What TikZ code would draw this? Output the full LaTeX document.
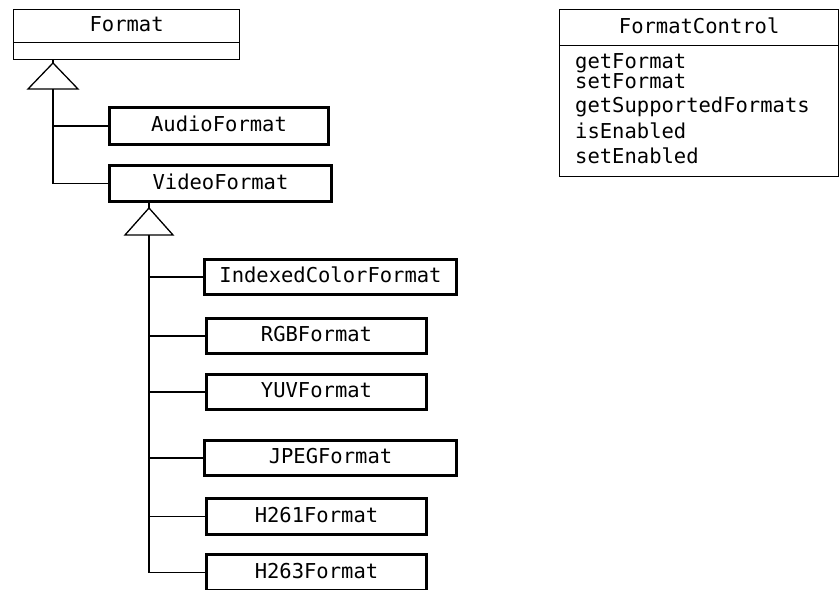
\documentclass[tikz,border=0pt]{standalone}
\usepackage{fontspec}
\setmonofont{DejaVu Sans Mono}
\usetikzlibrary{positioning}

\tikzset{
  umltext/.style={font=\fontsize{20.5}{24}\selectfont\ttfamily, text height=14pt, text depth=3pt},
  classbox/.style={draw, rectangle, anchor=north west, inner sep=0pt, line width=1.3pt, umltext},
  subclass/.style={classbox, line width=3pt},
  method/.style={anchor=base west, inner sep=0pt, font=\fontsize{20.5}{24}\selectfont\ttfamily},
  link/.style={line width=1.3pt}
}

\begin{document}
\begin{tikzpicture}[x=1pt, y=-1pt, line join=miter]
    \useasboundingbox (0,0) rectangle (840,589);

    % base class with its empty attribute part
    \node[classbox, minimum width=226, minimum height=33] (format) at (13,9) {Format};
    \node[classbox, minimum width=226, minimum height=11] (fmtattr) at (13,42) {};

    \node[subclass, minimum width=219, minimum height=37] (audio) at (108,106) {AudioFormat};
    \node[subclass, minimum width=222, minimum height=36] (video) at (108,164) {VideoFormat};

    \node[subclass, minimum width=252, minimum height=35] (indexed) at (203,258) {IndexedColorFormat};
    \node[subclass, minimum width=220, minimum height=35] (rgb) at (205,317) {RGBFormat};
    \node[subclass, minimum width=220, minimum height=35] (yuv) at (205,373) {YUVFormat};
    \node[subclass, minimum width=252, minimum height=35] (jpeg) at (203,439) {JPEGFormat};
    \node[subclass, minimum width=220, minimum height=36] (h261) at (205,497) {H261Format};
    \node[subclass, minimum width=220, minimum height=36] (h263) at (205,553) {H263Format};

    % control interface
    \node[classbox, minimum width=279, minimum height=36] (control) at (559,9) {FormatControl};
    \node[classbox, minimum width=279, minimum height=131] (ctrlbody) at (559,45) {};
    \node[method] (getfmt) at (575,68) {getFormat};
    \node[method] (setfmt) at (575,88) {setFormat};
    \node[method] (getsup) at (575,112) {getSupportedFormats};
    \node[method] (isen) at (575,138) {isEnabled};
    \node[method] (seten) at (575,163) {setEnabled};

    % generalization: Format
    \coordinate (fmtTip) at (53,63);
    \coordinate (fmtBase) at (53,89);
    \draw[link] (fmtTip |- fmtattr.south) -- (fmtTip);
    \draw[link] (fmtTip) -- ++(-25,26) -- ++(50,0) -- cycle;
    \draw[link] (fmtBase) |- (audio.west);
    \draw[link] (fmtBase) |- (video.west);

    % generalization: VideoFormat
    \coordinate (vidTip) at (149,208);
    \coordinate (vidBase) at (149,235);
    \draw[link] (vidTip |- video.south) -- (vidTip);
    \draw[link] (vidTip) -- ++(-24,27) -- ++(48,0) -- cycle;
    \foreach \sub in {indexed, rgb, yuv, jpeg, h261, h263}
      \draw[link] (vidBase) |- (\sub.west);
\end{tikzpicture}
\end{document}
